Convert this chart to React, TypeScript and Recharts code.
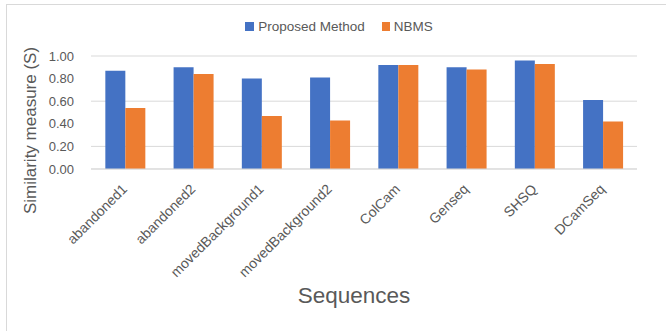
import React from "react";
import { BarChart, Bar, XAxis, YAxis, CartesianGrid, Label } from "recharts";

const categories = [
  "abandoned1",
  "abandoned2",
  "movedBackground1",
  "movedBackground2",
  "ColCam",
  "Genseq",
  "SHSQ",
  "DCamSeq",
];
const proposed = [0.87, 0.9, 0.8, 0.81, 0.92, 0.9, 0.96, 0.61];
const nbms = [0.54, 0.84, 0.47, 0.43, 0.92, 0.88, 0.93, 0.42];
const yTicks = [0, 0.2, 0.4, 0.6, 0.8, 1.0];
const seriesNames = ["Proposed Method", "NBMS"];

const data = categories.map((c, i) => ({ name: c, proposed: proposed[i], nbms: nbms[i] }));

const BLUE = "#4472C4";
const ORANGE = "#ED7D31";
const TEXT = "#595959";
const GRID = "#D9D9D9";
const FONT = "'Liberation Sans', Arial, sans-serif";

const XTick = (props: any) => {
  const { x, y, payload } = props;
  return (
    <g transform={`translate(${x + 3},${y + 13}) rotate(-45)`}>
      <text x={0} y={0} textAnchor="end" fontSize={14} fill={TEXT} fontFamily={FONT}>
        {payload.value}
      </text>
    </g>
  );
};

export default function App() {
  return (
    <div style={{ position: "absolute", left: 0, top: 0, width: 666, height: 331, background: "#fff" }}>
      <div
        style={{
          position: "absolute",
          left: 6,
          top: 4,
          width: 660,
          height: 327,
          borderTop: `1px solid ${GRID}`,
          borderLeft: `1px solid ${GRID}`,
          boxSizing: "border-box",
        }}
      />
      <div
        style={{
          position: "absolute",
          top: 19,
          left: 0,
          width: 666,
          display: "flex",
          justifyContent: "center",
          alignItems: "center",
          fontFamily: FONT,
          fontSize: 13.5,
          color: TEXT,
          paddingLeft: 12,
          boxSizing: "border-box",
        }}
      >
        <span style={{ display: "inline-block", width: 9, height: 9, background: BLUE, marginRight: 4 }} />
        <span style={{ marginRight: 17 }}>{seriesNames[0]}</span>
        <span style={{ display: "inline-block", width: 8, height: 9, background: ORANGE, marginRight: 4 }} />
        <span>{seriesNames[1]}</span>
      </div>
      <div style={{ position: "absolute", left: 0, top: 0 }}>
        <BarChart
          width={666}
          height={331}
          data={data}
          margin={{ top: 56, right: 29, left: 0, bottom: 0 }}
          barCategoryGap="21%"
          barGap={0}
        >
          <CartesianGrid vertical={false} stroke={GRID} strokeWidth={1} />
          <XAxis
            dataKey="name"
            interval={0}
            height={162}
            tickLine={false}
            axisLine={{ stroke: GRID }}
            tick={<XTick />}
          >
            <Label
              content={(p: any) => {
                const vb = p.viewBox;
                return (
                  <text
                    x={vb.x + vb.width / 2 - 10}
                    y={vb.y + 134}
                    textAnchor="middle"
                    fontSize={22.5}
                    fill={TEXT}
                    fontFamily={FONT}
                  >
                    Sequences
                  </text>
                );
              }}
            />
          </XAxis>
          <YAxis
            width={91}
            domain={[0, 1]}
            ticks={yTicks}
            tickFormatter={(v: number) => v.toFixed(2)}
            axisLine={false}
            tickLine={false}
            tickMargin={11}
            tick={{ fontSize: 13, fill: TEXT, fontFamily: FONT }}
          >
            <Label
              content={(p: any) => {
                const vb = p.viewBox;
                const cx = vb.x + 36;
                const cy = vb.y + vb.height / 2 + 18;
                return (
                  <text
                    x={cx}
                    y={cy}
                    transform={`rotate(-90, ${cx}, ${cy})`}
                    textAnchor="middle"
                    fontSize={17}
                    fill={TEXT}
                    fontFamily={FONT}
                  >
                    Similarity measure (S)
                  </text>
                );
              }}
            />
          </YAxis>
          <Bar dataKey="proposed" name={seriesNames[0]} fill={BLUE} isAnimationActive={false} />
          <Bar dataKey="nbms" name={seriesNames[1]} fill={ORANGE} isAnimationActive={false} />
        </BarChart>
      </div>
    </div>
  );
}
